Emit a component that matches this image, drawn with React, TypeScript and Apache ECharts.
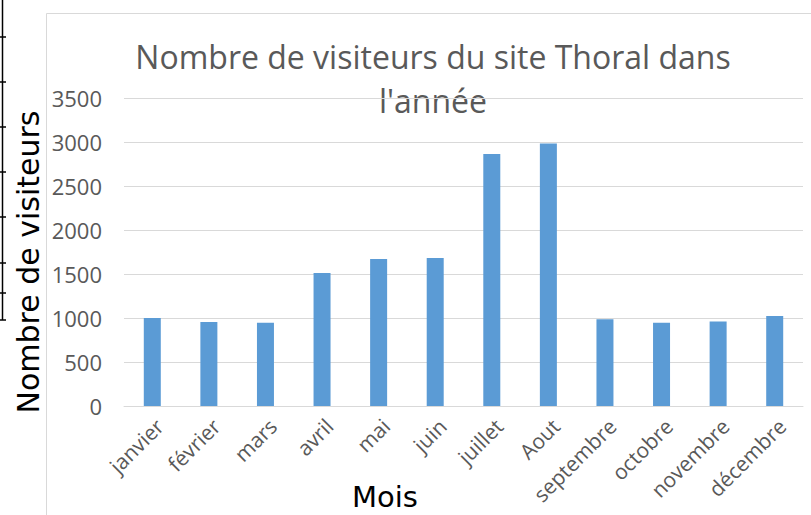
import React, { useEffect, useRef } from "react";
import * as echarts from "echarts";

const months = ["janvier", "février", "mars", "avril", "mai", "juin", "juillet", "Aout", "septembre", "octobre", "novembre", "décembre"];
const visitors = [1000, 955, 945, 1510, 1670, 1682, 2864, 2983, 985, 945, 960, 1022];
const yTicks = { min: 0, max: 3500, interval: 500 };
const titleText = "Nombre de visiteurs du site Thoral dans\nl'année";
const yTitle = "Nombre de visiteurs";
const xTitle = "Mois";

export default function App() {
  const ref = useRef<HTMLDivElement>(null);
  useEffect(() => {
    document.body.style.margin = "0";
    const chart = echarts.init(ref.current!, null, { renderer: "svg" });
    const stubs = [37, 82, 127, 172, 217, 263, 293, 320];
    chart.setOption({
      animation: false,
      backgroundColor: "#ffffff",
      grid: { left: 124, right: 8, top: 98, bottom: 109 },
      xAxis: {
        type: "category",
        data: months,
        axisLine: { lineStyle: { color: "#d9d9d9", width: 1 } },
        axisTick: { show: false },
        axisLabel: { rotate: 45, color: "#595959", fontSize: 21, fontFamily: "Open Sans", margin: 9, interval: 0, verticalAlign: "top" },
      },
      yAxis: {
        type: "value",
        min: yTicks.min,
        max: yTicks.max,
        interval: yTicks.interval,
        axisLine: { show: false },
        axisTick: { show: false },
        splitLine: { lineStyle: { color: "#d9d9d9", width: 1 } },
        axisLabel: { color: "#595959", fontSize: 22, fontFamily: "Open Sans", margin: 22, formatter: (v: number) => String(v) },
      },
      series: [
        {
          type: "bar",
          data: visitors,
          barWidth: 17,
          itemStyle: { color: "#5b9bd5" },
        },
      ],
      graphic: [
        { type: "rect", shape: { x: 46.5, y: 13.5, width: 770, height: 520 }, style: { fill: "none", stroke: "#d9d9d9", lineWidth: 1 }, silent: true },
        { type: "line", shape: { x1: 2.5, y1: 0, x2: 2.5, y2: 320 }, style: { stroke: "#000", lineWidth: 1.5 } },
        ...stubs.map((y) => ({ type: "line", shape: { x1: 0, y1: y, x2: 6, y2: y }, style: { stroke: "#000", lineWidth: 1.5 } })),
        {
          type: "text",
          x: 433,
          y: 34,
          style: { text: titleText, fill: "#595959", font: "32px 'Open Sans'", align: "center", lineHeight: 44 },
        },
        {
          type: "text",
          x: 28,
          y: 262,
          rotation: Math.PI / 2,
          style: { text: yTitle, fill: "#000", font: "30px 'DejaVu Sans'", align: "center", verticalAlign: "middle" },
        },
        {
          type: "text",
          x: 385,
          y: 497,
          style: { text: xTitle, fill: "#000", font: "29px 'DejaVu Sans'", align: "center", verticalAlign: "middle" },
        },
      ],
    });
    return () => chart.dispose();
  }, []);
  return <div ref={ref} style={{ width: 811, height: 515 }} />;
}
